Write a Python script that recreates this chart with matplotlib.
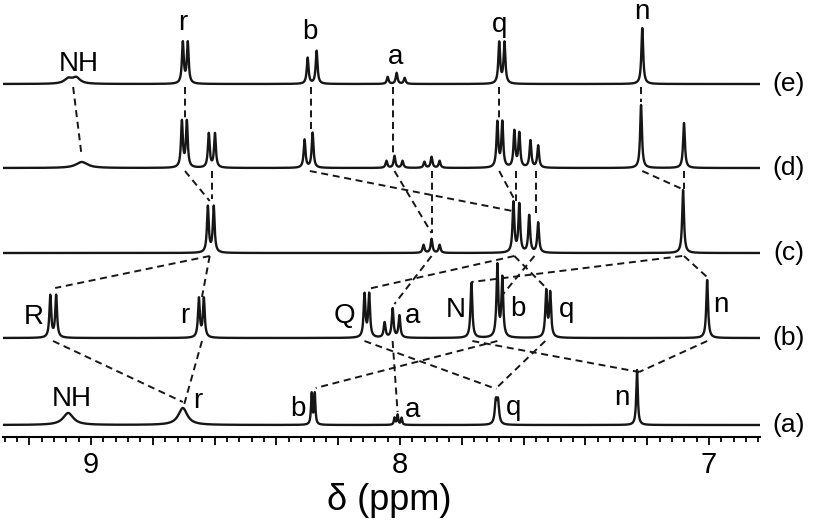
import numpy as np
import matplotlib.pyplot as plt
from matplotlib.ticker import MultipleLocator, FuncFormatter

plt.rcParams['font.family'] = ['Liberation Sans', 'DejaVu Sans']

# peak tables: shift (ppm), height, line width (ppm)
a_ppm = [9.074, 8.703, 8.286, 8.276, 8.018, 8.008, 7.995, 7.690, 7.683, 7.233]
a_h = [12, 17, 31, 31, 7, 10, 7, 22, 22, 55]
a_w = [0.040, 0.035, 0.005, 0.005, 0.005, 0.005, 0.005, 0.008, 0.008, 0.006]

b_ppm = [9.132, 9.113, 8.651, 8.635, 8.115, 8.100, 8.050, 8.024, 8.002,
         7.769, 7.685, 7.669, 7.527, 7.514, 7.006]
b_h = [42, 42, 39, 39, 43, 43, 15, 29, 22, 55, 72, 59, 46, 44, 58]
b_w = [0.007] * 15

c_ppm = [8.622, 8.603, 7.924, 7.898, 7.872, 7.633, 7.614, 7.582, 7.553, 7.084]
c_h = [46, 46, 8, 14, 8, 50, 48, 37, 30, 63]
c_w = [0.007] * 10

d_ppm = [9.030, 8.706, 8.690, 8.619, 8.599, 8.309, 8.283, 8.044, 8.018, 7.992,
         7.921, 7.898, 7.872, 7.685, 7.669, 7.630, 7.614, 7.578, 7.553,
         7.220, 7.081]
d_h = [6, 46, 46, 34, 34, 28, 35, 7, 12, 7, 6, 11, 7, 45, 45, 36, 34, 27, 22,
       63, 45]
d_w = [0.045] + [0.007] * 20

e_ppm = [9.074, 9.048, 8.703, 8.687, 8.299, 8.270, 8.040, 8.011, 7.985,
         7.679, 7.662, 7.216]
e_h = [5, 6, 41, 41, 26, 33, 7, 11, 6, 41, 41, 56]
e_w = [0.030, 0.030] + [0.007] * 10

spectra = [(a_ppm, a_h, a_w), (b_ppm, b_h, b_w), (c_ppm, c_h, c_w),
           (d_ppm, d_h, d_w), (e_ppm, e_h, e_w)]
row_names = ['(a)', '(b)', '(c)', '(d)', '(e)']
offsets = [12, 99, 184, 269, 353]

# peak labels: text, ppm, height above the baseline
labels = [
    [('NH', 9.061, 19), ('r', 8.654, 17), ('b', 8.331, 9), ('a', 7.960, 8),
     ('q', 7.633, 10), ('n', 7.281, 20)],
    [('R', 9.187, 14), ('r', 8.696, 15), ('Q', 8.179, 15), ('a', 7.960, 15),
     ('N', 7.821, 21), ('b', 7.617, 22), ('q', 7.462, 21), ('n', 6.961, 26)],
    [],
    [],
    [('NH', 9.039, 13), ('r', 8.703, 54), ('b', 8.292, 45), ('a', 8.015, 20),
     ('q', 7.679, 52), ('n', 7.216, 65)],
]

# dashed correlation lines: from row/ppm (under the baseline) to row/ppm/height
conn_from_row = [4, 4, 4, 4, 4, 4,
                 3, 3, 3, 3, 3, 3, 3, 3, 3, 3,
                 2, 2, 2, 2, 2, 2, 2, 2,
                 1, 1, 1, 1, 1, 1, 1, 1]
conn_from_ppm = [9.058, 8.697, 8.289, 8.024, 7.679, 7.220,
                 8.696, 8.609, 8.292, 8.018, 7.898, 7.679, 7.624, 7.559, 7.216, 7.081,
                 8.616, 8.616, 7.898, 7.630, 7.630, 7.565, 7.087, 7.081,
                 9.123, 8.641, 8.115, 8.024, 7.685, 7.766, 7.006, 7.530]
conn_to_ppm = [9.032, 8.697, 8.289, 8.024, 7.679, 7.220,
               8.616, 8.609, 7.636, 7.898, 7.898, 7.627, 7.624, 7.559, 7.087, 7.081,
               9.116, 8.641, 8.018, 8.105, 7.530, 7.669, 7.769, 7.003,
               8.703, 8.700, 7.688, 8.008, 8.273, 7.226, 7.226, 7.688]
conn_to_h = [16, 49, 38, 15, 50, 66,
             52, 54, 42, 20, 20, 52, 52, 38, 64, 64,
             50, 41, 34, 49, 51, 43, 56, 60,
             23, 19, 36, 13, 37, 53, 53, 37]

x = np.linspace(9.3, 6.82, 12000)

fig = plt.figure(figsize=(8.13, 5.2), dpi=100)
ax = fig.add_axes([3 / 813, 83 / 520, 757 / 813, 437 / 520])

for i, (ppm, h, w) in enumerate(spectra):
    y = np.full_like(x, offsets[i], dtype=float)
    for p, hh, ww in zip(ppm, h, w):
        y += hh / (1 + ((x - p) / (ww / 2)) ** 2)
    ax.plot(x, y, color='#161616', lw=1.7)
    ax.text(6.742, offsets[i], row_names[i], fontsize=19, ha='center',
            va='center', clip_on=False)
    for txt, p, dy in labels[i]:
        ax.text(p, offsets[i] + dy, txt, fontsize=20, ha='center',
                va='baseline', clip_on=False)

for r0, p0, p1, h1 in zip(conn_from_row, conn_from_ppm, conn_to_ppm, conn_to_h):
    ax.plot([p0, p1], [offsets[r0] - 3, offsets[r0 - 1] + h1], color='#161616',
            lw=1.4, dashes=(3.6, 2.4))

ax.set_xlim(9.285, 6.835)
ax.set_ylim(0, 437)
for s in ['left', 'right', 'top']:
    ax.spines[s].set_visible(False)
ax.spines['bottom'].set_linewidth(1.5)
ax.set_yticks([])
ax.xaxis.set_major_locator(MultipleLocator(0.2))
ax.xaxis.set_minor_locator(MultipleLocator(0.04))
ax.xaxis.set_major_formatter(FuncFormatter(
    lambda v, pos: '%d' % round(v) if abs(v - round(v)) < 1e-6 else ''))
ax.tick_params(axis='x', which='major', direction='out', length=6, width=1.3,
               labelsize=21, pad=4)
ax.tick_params(axis='x', which='minor', direction='out', length=3.5, width=1.3)
ax.set_xlabel('δ (ppm)', fontsize=26, labelpad=0)
ax.xaxis.set_label_coords(0.51, -0.105)

fig.savefig('out.png', dpi=100)
